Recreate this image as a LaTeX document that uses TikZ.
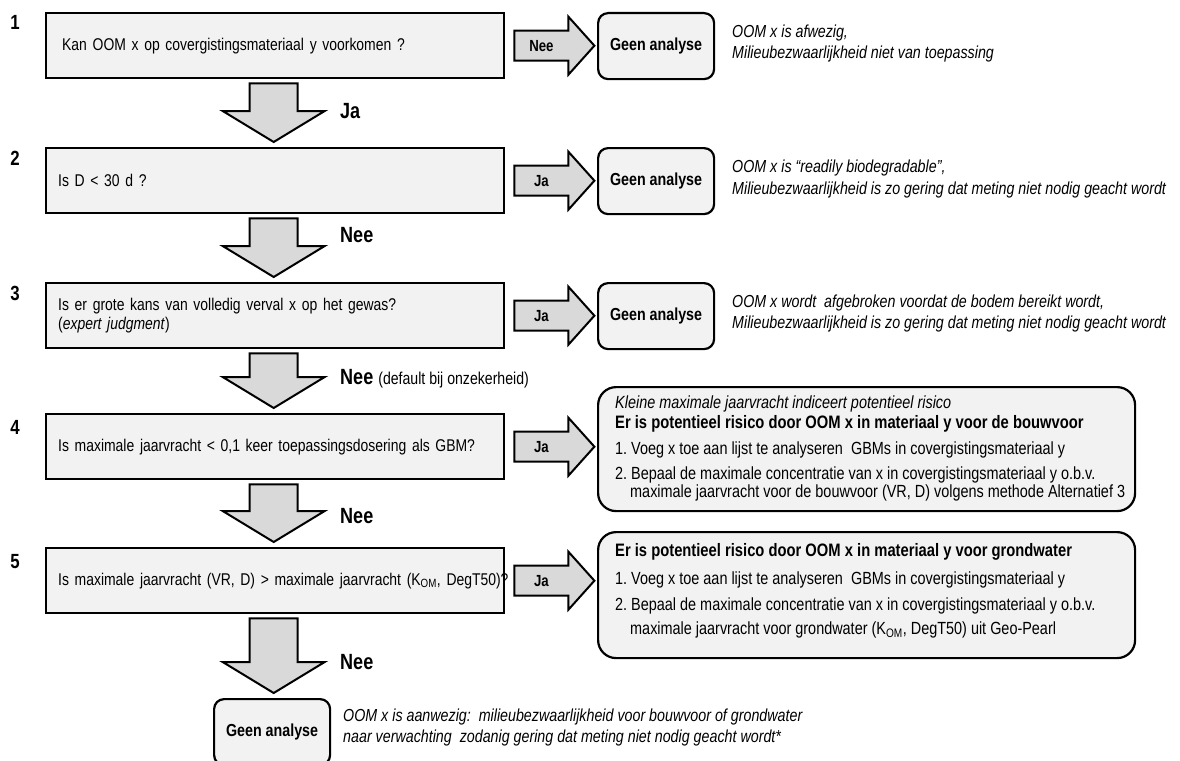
\documentclass[tikz,border=0pt]{standalone}
\usepackage{fontspec}
\setmainfont{Liberation Sans}[FakeStretch=0.82]
\usetikzlibrary{calc}
\definecolor{boxfill}{HTML}{F2F2F2}
\definecolor{arrfill}{HTML}{D9D9D9}
\newcommand\fs{\fontsize{17.4}{20}\selectfont}
\newcommand\fq{\fontsize{17}{19.5}\selectfont}
\newcommand\fb{\fontsize{17.6}{20}\selectfont}
\newcommand\rarr[3]{%
  \coordinate (#2s) at ($(#1.east)+(9,0)$);
  \draw[barrow] ($(#2s)+(0,-15)$) -- ++(54,0) -- ++(0,-14) -- ++(26,29) -- ++(-26,29) -- ++(0,-14) -- ++(-54,0) -- cycle;
  \node[alabel] (#2) at ($(#2s)+(27,0)$) {#3};}
\newcommand\darr[3]{%
  \coordinate (#3s) at ($(#1.south)+(-1.5,4)$);
  \coordinate (#3e) at ($(#3s |- #2.north)+(0,-5)$);
  \draw[barrow] ($(#3s)+(-24,0)$) -- ($(#3s)+(24,0)$) -- ($(#3e)+(24,-31)$) -- ($(#3e)+(51,-31)$) -- (#3e) -- ($(#3e)+(-51,-31)$) -- ($(#3e)+(-24,-31)$) -- cycle;}
\begin{document}
\begin{tikzpicture}[x=1pt,y=-1pt,
  qbox/.style={draw, line width=2.4pt, fill=boxfill, minimum width=458, minimum height=65, inner xsep=12, text width=434, align=left, anchor=north west, font=\fq},
  gbox/.style={draw, line width=2.2pt, fill=boxfill, rounded corners=10, minimum width=116, minimum height=66, anchor=north west, font=\fs\bfseries},
  bigbox/.style={draw, line width=2.2pt, fill=boxfill, rounded corners=18, minimum width=537, anchor=north west},
  barrow/.style={draw, line width=2pt, fill=arrfill, line join=miter},
  txt/.style={inner sep=0, anchor=west, align=left, font=\fb},
  note/.style={inner sep=0, anchor=west, align=left, font=\fontsize{17.4}{21}\selectfont\itshape},
  num/.style={inner sep=0, font=\fontsize{20.5}{24}\selectfont\bfseries},
  dlabel/.style={inner sep=0, anchor=west, font=\fontsize{22}{26}\selectfont\bfseries},
  alabel/.style={inner sep=0, font=\fontsize{16.1}{19}\selectfont\bfseries}
]
\useasboundingbox (0,0) rectangle (1180,760);

% step numbers
\node[num] (k1) at (15,22) {1};
\node[num] (k2) at (15,158) {2};
\node[num] (k3) at (15,293) {3};
\node[num] (k4) at (15,427) {4};
\node[num] (k5) at (15,562) {5};

% question boxes
\node[qbox] (b1) at (45,12) {\hspace*{4pt}Kan OOM x op covergistingsmateriaal y voorkomen ?};
\node[qbox] (b2) at (45,147) {Is D < 30 d ?};
\node[qbox] (b3) at (45,282) {Is er grote kans van volledig verval x op het gewas?\\(\textit{expert judgment})};
\node[qbox] (b4) at (45,413) {Is maximale jaarvracht < 0,1 keer toepassingsdosering als GBM?};
\node[qbox] (b5) at (45,547) {\mbox{Is maximale jaarvracht (VR, D) > maximale jaarvracht (K\textsubscript{OM}, DegT50)?}};

% outcome boxes
\node[gbox] (g1) at (597,12) {Geen analyse};
\node[gbox] (g2) at (597,147) {Geen analyse};
\node[gbox] (g3) at (597,282) {Geen analyse};
\node[bigbox, minimum height=124] (r4) at (597,386) {};
\node[bigbox, minimum height=126] (r5) at (597,531) {};
\node[gbox] (g6) at (213,698) {Geen analyse};

% right arrows
\rarr{b1}{a1}{Nee}
\rarr{b2}{a2}{Ja}
\rarr{b3}{a3}{Ja}
\rarr{b4}{a4}{Ja}
\rarr{b5}{a5}{Ja}

% down arrows
\darr{b1}{b2}{d1}
\darr{b2}{b3}{d2}
\darr{b3}{b4}{d3}
\darr{b4}{b5}{d4}
\darr{b5}{g6}{d5}

% down arrow labels
\node[dlabel] (l1) at (340,111) {Ja};
\node[dlabel] (l2) at (340,235) {Nee};
\node[dlabel] (l3) at (340,379) {Nee {\fontsize{17.2}{20}\selectfont\mdseries (default bij onzekerheid)}};
\node[dlabel] (l4) at (340,516) {Nee};
\node[dlabel] (l5) at (340,662) {Nee};

% notes
\node[note] (n1) at (732,44) {OOM x is afwezig,\\Milieubezwaarlijkheid niet van toepassing};
\node[note] (n2) at (732,179) {OOM x is “readily biodegradable”,\\Milieubezwaarlijkheid is zo gering dat meting niet nodig geacht wordt};
\node[note] (n3) at (732,313) {OOM x wordt\ \ afgebroken voordat de bodem bereikt wordt,\\Milieubezwaarlijkheid is zo gering dat meting niet nodig geacht wordt};
\node[note] (n6) at (343,727) {OOM x is aanwezig:\ \ milieubezwaarlijkheid voor bouwvoor of grondwater\\naar verwachting\ \ zodanig gering dat meting niet nodig geacht wordt*};

% contents of box 4
\node[txt, font=\fontsize{17.6}{20}\selectfont\itshape] (r4a) at (615,404) {Kleine maximale jaarvracht indiceert potentieel risico};
\node[txt, font=\fontsize{18}{20}\selectfont\bfseries] (r4b) at (615,424) {Er is potentieel risico door OOM x in materiaal y voor de bouwvoor};
\node[txt] (r4c) at (615,450) {1.\ Voeg x toe aan lijst te analyseren\ \ GBMs in covergistingsmateriaal y};
\node[txt] (r4d) at (615,475) {2.\ Bepaal de maximale concentratie van x in covergistingsmateriaal y o.b.v.};
\node[txt] (r4e) at (630,493) {maximale jaarvracht voor de bouwvoor (VR, D) volgens methode Alternatief 3};

% contents of box 5
\node[txt, font=\fontsize{18}{20}\selectfont\bfseries] (r5a) at (615,552) {Er is potentieel risico door OOM x in materiaal y voor grondwater};
\node[txt] (r5b) at (615,580) {1.\ Voeg x toe aan lijst te analyseren\ \ GBMs in covergistingsmateriaal y};
\node[txt] (r5c) at (615,606) {2.\ Bepaal de maximale concentratie van x in covergistingsmateriaal y o.b.v.};
\node[txt] (r5d) at (630,630) {maximale jaarvracht voor grondwater (K\textsubscript{OM}, DegT50) uit Geo-Pearl};
\end{tikzpicture}
\end{document}
